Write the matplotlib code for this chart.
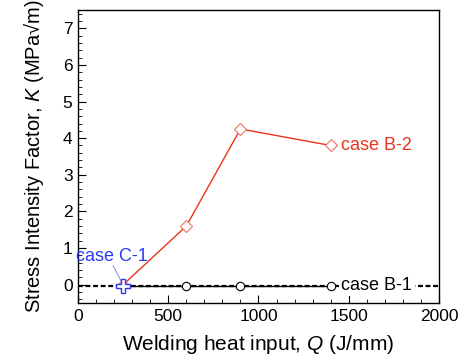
import matplotlib.pyplot as plt
from matplotlib.ticker import MultipleLocator

plt.rcParams.update({
    "font.family": ["Liberation Sans", "DejaVu Sans"],
    "mathtext.fontset": "custom",
    "mathtext.it": "Liberation Sans:italic",
    "mathtext.rm": "Liberation Sans",
})

# data
q_b2 = [250, 600, 900, 1400]
k_b2 = [0.0, 1.6, 4.25, 3.8]
q_b1 = [250, 600, 900, 1400]
k_b1 = [-0.03, -0.03, -0.03, -0.03]
q_c1 = [250]
k_c1 = [-0.03]
baseline_q = [0, 2000]
baseline_k = [-0.05, -0.05]

fig = plt.figure(figsize=(4.62, 3.56), dpi=100)
ax = fig.add_axes([0.169, 0.149, 0.781, 0.823])

red = '#e8341c'
blue = '#2a3cf0'

# case B-1 : dashed baseline over the whole range + solid segment with circles
ax.plot(baseline_q, baseline_k, color='black', lw=1.6, ls=(0, (2.2, 1.2)), zorder=2)
ax.plot(q_b1, k_b1, color='black', lw=1.0, zorder=2)
ax.plot(q_b1[1:], k_b1[1:], ls='none', marker='o', ms=6, mfc='white',
        mec='black', mew=0.8, zorder=4)
ax.text(1460, -0.03, 'case B-1', fontsize=13, va='center', ha='left',
        bbox=dict(facecolor='white', edgecolor='none', pad=1.5), zorder=5)

# case B-2
ax.plot(q_b2, k_b2, color=red, lw=1.0, marker='D', ms=6.5, mfc='white',
        mec='#f08070', mew=0.9, zorder=3)
ax.text(1460, 3.8, 'case B-2', color=red, fontsize=13, va='center', ha='left')

# case C-1
ax.plot(q_c1, k_c1, ls='none', marker='P', ms=10, mfc='white', mec=blue,
        mew=1.0, zorder=6)
ax.text(188, 0.78, 'case C-1', color=blue, fontsize=13, ha='center', va='center')
ax.annotate('', xy=(244, 0.05), xytext=(194, 0.52),
            arrowprops=dict(arrowstyle='-', color='#8090f0', lw=0.7,
                            shrinkA=0, shrinkB=0))

ax.set_xlim(0, 2000)
ax.set_ylim(-0.5, 7.5)
ax.xaxis.set_major_locator(MultipleLocator(500))
ax.xaxis.set_minor_locator(MultipleLocator(100))
ax.yaxis.set_major_locator(MultipleLocator(1))
ax.yaxis.set_minor_locator(MultipleLocator(0.2))
ax.tick_params(which='both', direction='in', top=False, right=False,
               labelsize=12.5)
ax.tick_params(which='major', length=6, width=0.8, pad=4)
ax.tick_params(which='minor', length=3, width=0.6)
for s in ax.spines.values():
    s.set_linewidth(1.0)

ax.set_xlabel(r'Welding heat input, $Q$ (J/mm)', fontsize=15, labelpad=7)
ax.set_ylabel('Stress Intensity Factor, $K$ (MPa\u221am)',
              fontsize=14.5, labelpad=12)

plt.savefig('out.png', dpi=100)
